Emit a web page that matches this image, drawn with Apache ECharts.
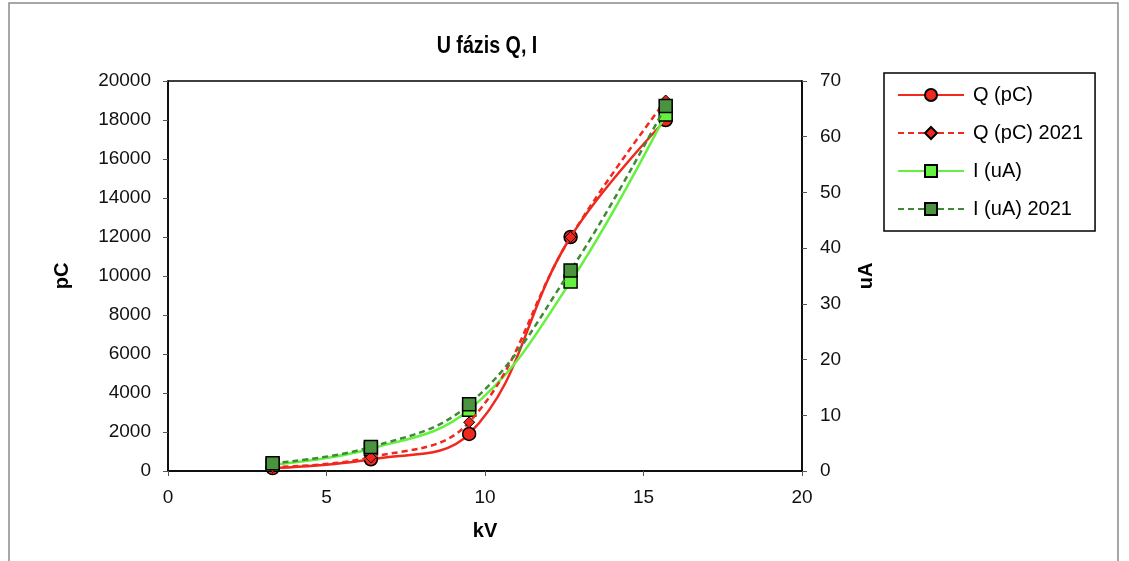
<!DOCTYPE html>
<html>
<head>
<meta charset="utf-8">
<script src="https://cdn.jsdelivr.net/npm/echarts@6/dist/echarts.min.js"></script>
<style>
  html, body { margin: 0; padding: 0; background: #fff; }
  #chart { width: 1129px; height: 561px; }
</style>
</head>
<body>
<div id="chart"></div>
<script>
// adatok
var kV = [3.3, 6.4, 9.5, 12.7, 15.7];
var qPc = [150, 600, 1900, 12000, 18000];
var qPc2021 = [200, 700, 2500, 12000, 19000];
var iUa = [1.1, 4.0, 11, 34, 64];
var iUa2021 = [1.4, 4.3, 12, 36, 65.5];

var font = "'Liberation Sans', Arial, sans-serif";

function pairs(xs, ys) {
  return xs.map(function (x, i) { return [x, ys[i]]; });
}
function plain(v) { return String(v); }

var myChart = echarts.init(document.getElementById("chart"));

myChart.setOption({
  animation: false,
  textStyle: { fontFamily: font },
  graphic: [
    {
      type: "rect",
      shape: { x: 9, y: 3, width: 1109, height: 620 },
      style: { fill: "none", stroke: "#8a8a8a", lineWidth: 1.5 },
      silent: true
    },
    {
      type: "text",
      x: 487, y: 46,
      scaleX: 0.82,
      style: {
        text: "U fázis Q, I",
        font: "bold 24px " + font,
        fill: "#000",
        textAlign: "center",
        textVerticalAlign: "middle"
      }
    }
  ],
  grid: {
    left: 168, right: 327, top: 81, bottom: 90,
    show: true, borderColor: "#000", borderWidth: 1.5
  },
  legend: {
    orient: "vertical",
    left: 884, top: 73,
    padding: [12, 12, 12, 13],
    itemWidth: 66, itemHeight: 15, itemGap: 18,
    borderColor: "#000", borderWidth: 1.5,
    textStyle: { fontSize: 20, color: "#000", fontFamily: font, padding: [0, 0, 0, 4] },
    data: ["Q (pC)", "Q (pC) 2021", "I (uA)", "I (uA) 2021"]
  },
  xAxis: {
    type: "value", min: 0, max: 20, interval: 5,
    name: "kV", nameLocation: "middle", nameGap: 50,
    nameTextStyle: { fontSize: 20, fontWeight: "bold", color: "#000" },
    axisLine: { lineStyle: { color: "#000", width: 1.5 } },
    axisTick: { show: true, length: 5, lineStyle: { color: "#555" } },
    axisLabel: { fontSize: 19, color: "#111", margin: 17, formatter: plain },
    splitLine: { show: false }
  },
  yAxis: [
    {
      type: "value", min: 0, max: 20000, interval: 2000,
      name: "pC", nameLocation: "middle", nameGap: 96, nameRotate: 90,
      nameTextStyle: { fontSize: 20, fontWeight: "bold", color: "#000" },
      axisLine: { show: true, lineStyle: { color: "#000", width: 1.5 } },
      axisTick: { show: true, length: 5, lineStyle: { color: "#555" } },
      axisLabel: { fontSize: 19, color: "#111", margin: 17, formatter: plain },
      splitLine: { show: false }
    },
    {
      type: "value", min: 0, max: 70, interval: 10, position: "right",
      name: "uA", nameLocation: "middle", nameGap: 54, nameRotate: 90,
      nameTextStyle: { fontSize: 20, fontWeight: "bold", color: "#000" },
      axisLine: { show: true, lineStyle: { color: "#000", width: 1.5 } },
      axisTick: { show: true, length: 5, lineStyle: { color: "#555" } },
      axisLabel: { fontSize: 19, color: "#111", margin: 18, formatter: plain },
      splitLine: { show: false }
    }
  ],
  series: [
    {
      name: "I (uA)", type: "line", yAxisIndex: 1, smooth: 0.4,
      data: pairs(kV, iUa),
      symbol: "rect", symbolSize: 13,
      lineStyle: { color: "#66f040", width: 2.5 },
      itemStyle: { color: "#66f040", borderColor: "#000", borderWidth: 1.5 },
      z: 2
    },
    {
      name: "I (uA) 2021", type: "line", yAxisIndex: 1, smooth: 0.4,
      data: pairs(kV, iUa2021),
      symbol: "rect", symbolSize: 13,
      lineStyle: { color: "#3f8a35", width: 2.5, type: [6, 4] },
      itemStyle: { color: "#4a9440", borderColor: "#000", borderWidth: 1.5 },
      z: 4
    },
    {
      name: "Q (pC)", type: "line", yAxisIndex: 0, smooth: 0.4,
      data: pairs(kV, qPc),
      symbol: "circle", symbolSize: 13,
      lineStyle: { color: "#f0281e", width: 2.5 },
      itemStyle: { color: "#f0281e", borderColor: "#000", borderWidth: 1.5 },
      z: 1
    },
    {
      name: "Q (pC) 2021", type: "line", yAxisIndex: 0, smooth: 0.4,
      data: pairs(kV, qPc2021),
      symbol: "diamond", symbolSize: 11,
      lineStyle: { color: "#f0281e", width: 2.5, type: [6, 4] },
      itemStyle: { color: "#f0281e", borderColor: "#000", borderWidth: 1 },
      z: 3
    }
  ]
});
</script>
</body>
</html>
